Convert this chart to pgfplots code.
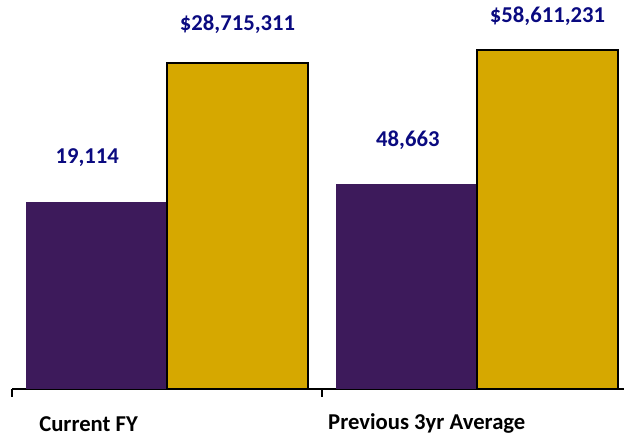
\documentclass[border=0pt]{standalone}
\usepackage{fontspec}
\setmainfont{Carlito}
\usepackage{pgfplots}
\pgfplotsset{compat=1.18}
\definecolor{barpurple}{RGB}{61,26,91}
\definecolor{bargold}{RGB}{214,168,0}
\definecolor{lblblue}{RGB}{10,10,128}
\begin{document}
\begin{tikzpicture}
\useasboundingbox (0,0) rectangle (468pt,328.5pt);
\begin{axis}[
  at={(9pt,36.75pt)}, anchor=south west,
  scale only axis, width=465pt, height=284.25pt,
  xmin=-0.5, xmax=1.5, ymode=log, ymin=1, ymax=4.78e8,
  axis y line=none, axis x line*=bottom,
  x axis line style={line width=1.2pt, black},
  xtick={-0.5,0.5,1.5}, xticklabels={},
  tick align=outside, major tick length=6pt,
  every tick/.style={black, line width=1pt},
  xticklabel style={font=\fontsize{17}{20}\selectfont\bfseries},
  extra x ticks={-0.253,0.838},
  extra x tick labels={Current FY, Previous 3yr Average},
  extra x tick style={major tick length=0pt, xticklabel style={anchor=center, yshift=-26pt}},
  ybar, bar width=0.455, bar shift=0pt,
  nodes near coords, point meta=explicit symbolic,
  every node near coord/.append style={font=\fontsize{17}{20}\selectfont\bfseries, text=lblblue, anchor=center},
  clip=false,
]
\addplot[fill=barpurple, draw=none, every node near coord/.append style={yshift=33pt, xshift=-7pt}]
  coordinates {(-0.2274,19114) [{19,114}]};
\addplot[fill=barpurple, draw=none, every node near coord/.append style={yshift=33pt, xshift=1pt}]
  coordinates {(0.7726,48663) [{48,663}]};
\addplot[fill=bargold, draw=black, line width=1.5pt, every node near coord/.append style={yshift=29pt}]
  coordinates {(0.2274,28715311) [{\$28,715,311}]};
\addplot[fill=bargold, draw=black, line width=1.5pt, every node near coord/.append style={yshift=25.5pt}]
  coordinates {(1.2274,58611231) [{\$58,611,231}]};
\end{axis}
\end{tikzpicture}
\end{document}
